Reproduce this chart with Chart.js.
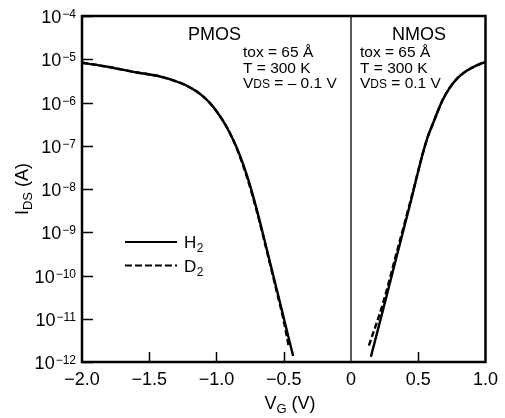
<!DOCTYPE html>
<html>
<head>
<meta charset="utf-8">
<script src="https://cdn.jsdelivr.net/npm/chart.js@4.4.1/dist/chart.umd.min.js"></script>
<style>
  html, body { margin: 0; padding: 0; background: #fff; }
  #wrap { width: 505px; height: 418px; }
</style>
</head>
<body>
<div id="wrap"><canvas id="chart" width="505" height="418"></canvas></div>
<script>
const FONT = "'Liberation Sans', Arial, Helvetica, sans-serif";

// axes
const xTickValues = [-2.0, -1.5, -1.0, -0.5, 0, 0.5, 1.0];
const xTickLabels = ["\u22122.0", "\u22121.5", "\u22121.0", "\u22120.5", "0", "0.5", "1.0"];
const xInnerTicks = [-1.5, -1.0, -0.5, 0.5];
const yTickValues = [1e-12, 1e-11, 1e-10, 1e-9, 1e-8, 1e-7, 1e-6, 1e-5, 1e-4];
const yTickExponents = ["\u221212", "\u221211", "\u221210", "\u22129", "\u22128", "\u22127", "\u22126", "\u22125", "\u22124"];

// PMOS branch (V_G < 0)
const pmosVgH2 = [-2.0, -1.8, -1.6, -1.42, -1.35, -1.3, -1.25, -1.2, -1.15, -1.1, -1.05, -1.0, -0.95, -0.9, -0.85, -0.8, -0.75, -0.7, -0.65, -0.6, -0.55, -0.5, -0.45, -0.43];
const pmosIdsH2 = [8.3e-6, 6.6e-6, 5.0e-6, 4.0e-6, 3.47e-6, 3.09e-6, 2.69e-6, 2.26e-6, 1.82e-6, 1.38e-6, 9.8e-7, 6.3e-7, 3.7e-7, 1.95e-7, 9.1e-8, 3.6e-8, 1.2e-8, 3.3e-9, 8.1e-10, 1.9e-10, 4.5e-11, 1.05e-11, 2.45e-12, 1.38e-12];
const pmosVgD2 = [-2.0, -1.8, -1.6, -1.42, -1.35, -1.3, -1.25, -1.2, -1.15, -1.1, -1.05, -1.0, -0.95, -0.9, -0.852, -0.804, -0.754, -0.703, -0.653, -0.603, -0.554, -0.505, -0.462];
const pmosIdsD2 = [8.3e-6, 6.6e-6, 5.0e-6, 4.0e-6, 3.47e-6, 3.09e-6, 2.69e-6, 2.26e-6, 1.82e-6, 1.38e-6, 9.8e-7, 6.3e-7, 3.7e-7, 1.95e-7, 9.1e-8, 3.6e-8, 1.2e-8, 3.3e-9, 8.1e-10, 1.9e-10, 4.5e-11, 1.05e-11, 2.2e-12];

// NMOS branch (V_G > 0)
const nmosVgH2 = [0.148, 0.25, 0.35, 0.45, 0.53, 0.57, 0.61, 0.65, 0.68, 0.73, 0.79, 0.86, 0.93, 1.0];
const nmosIdsH2 = [1.32e-12, 2.24e-11, 3.7e-10, 6.0e-9, 6.0e-8, 1.58e-7, 3.3e-7, 6.8e-7, 1.12e-6, 2.1e-6, 3.6e-6, 5.4e-6, 7.1e-6, 8.7e-6];
const nmosVgD2 = [0.133, 0.237, 0.343, 0.447, 0.53, 0.57, 0.61, 0.65, 0.68, 0.73, 0.79, 0.86, 0.93, 1.0];
const nmosIdsD2 = [2.4e-12, 2.24e-11, 3.7e-10, 6.0e-9, 6.0e-8, 1.58e-7, 3.3e-7, 6.8e-7, 1.12e-6, 2.1e-6, 3.6e-6, 5.4e-6, 7.1e-6, 8.7e-6];

// divider at V_G = 0
const dividerX = [0, 0];
const dividerY = [1e-12, 1e-4];

function pts(xs, ys) {
  return xs.map((x, i) => ({ x: x, y: ys[i] }));
}

function curve(xs, ys, dash) {
  return {
    data: pts(xs, ys),
    borderColor: "#000",
    borderWidth: 2.4,
    borderDash: dash,
    pointRadius: 0,
    fill: false,
    cubicInterpolationMode: "monotone"
  };
}

// draws the frame, inward ticks, y labels with exponents, axis titles, notes and legend
const decorations = {
  id: "decorations",
  afterDraw(chart) {
    const ctx = chart.ctx;
    const a = chart.chartArea;
    const xs = chart.scales.x;
    const ys = chart.scales.y;
    ctx.save();
    ctx.strokeStyle = "#000";
    ctx.fillStyle = "#000";

    ctx.lineWidth = 2.5;
    ctx.strokeRect(a.left, a.top, a.right - a.left, a.bottom - a.top);

    ctx.lineWidth = 1.5;
    yTickValues.forEach(v => {
      const y = Math.round(ys.getPixelForValue(v)) + 0.5;
      ctx.beginPath();
      ctx.moveTo(a.left, y);
      ctx.lineTo(a.left + 11, y);
      ctx.stroke();
    });
    xInnerTicks.forEach(v => {
      const x = Math.round(xs.getPixelForValue(v)) + 0.5;
      ctx.beginPath();
      ctx.moveTo(x, a.bottom);
      ctx.lineTo(x, a.bottom - 10);
      ctx.stroke();
    });

    // y tick labels: 10 with raised exponent
    ctx.textAlign = "right";
    ctx.textBaseline = "alphabetic";
    yTickValues.forEach((v, i) => {
      const y = ys.getPixelForValue(v);
      ctx.font = "12px " + FONT;
      const ew = ctx.measureText(yTickExponents[i]).width;
      ctx.fillText(yTickExponents[i], 76, y + 2);
      ctx.font = "18px " + FONT;
      ctx.fillText("10", 76 - ew - 1, y + 7);
    });

    // x title V_G (V)
    ctx.textAlign = "left";
    ctx.font = "18px " + FONT;
    const wV = ctx.measureText("V").width;
    const wRest = ctx.measureText(" (V)").width;
    ctx.font = "13px " + FONT;
    const wG = ctx.measureText("G").width;
    let x0 = 290 - (wV + wG + wRest) / 2;
    ctx.font = "18px " + FONT;
    ctx.fillText("V", x0, 409);
    ctx.font = "13px " + FONT;
    ctx.fillText("G", x0 + wV, 413);
    ctx.font = "18px " + FONT;
    ctx.fillText(" (V)", x0 + wV + wG, 409);

    // y title I_DS (A)
    ctx.save();
    ctx.translate(28, 189);
    ctx.rotate(-Math.PI / 2);
    ctx.font = "18px " + FONT;
    const wI = ctx.measureText("I").width;
    const wA = ctx.measureText(" (A)").width;
    ctx.font = "13px " + FONT;
    const wDS = ctx.measureText("DS").width;
    let t0 = -(wI + wDS + wA) / 2;
    ctx.font = "18px " + FONT;
    ctx.fillText("I", t0, 0);
    ctx.font = "13px " + FONT;
    ctx.fillText("DS", t0 + wI, 4);
    ctx.font = "18px " + FONT;
    ctx.fillText(" (A)", t0 + wI + wDS, 0);
    ctx.restore();

    // panel notes
    ctx.font = "18px " + FONT;
    ctx.fillText("PMOS", 188, 40);
    ctx.fillText("NMOS", 392, 40);
    function notes(left, vds) {
      ctx.font = "15.5px " + FONT;
      ctx.fillText("tox = 65 \u00C5", left, 57);
      ctx.fillText("T = 300 K", left, 72.5);
      const wv = ctx.measureText("V").width;
      ctx.fillText("V", left, 88);
      ctx.font = "12px " + FONT;
      const wds = ctx.measureText("DS").width;
      ctx.fillText("DS", left + wv, 88);
      ctx.font = "15.5px " + FONT;
      ctx.fillText(vds, left + wv + wds, 88);
    }
    notes(243, " = \u2013 0.1 V");
    notes(360, " = 0.1 V");

    // legend
    ctx.lineWidth = 2.2;
    ctx.beginPath();
    ctx.moveTo(125, 242);
    ctx.lineTo(177, 242);
    ctx.stroke();
    ctx.setLineDash([7, 3]);
    ctx.beginPath();
    ctx.moveTo(125, 265.5);
    ctx.lineTo(177, 265.5);
    ctx.stroke();
    ctx.setLineDash([]);
    ctx.font = "17px " + FONT;
    ctx.fillText("H", 184, 248);
    ctx.fillText("D", 184, 272);
    const wH = ctx.measureText("H").width;
    const wD = ctx.measureText("D").width;
    ctx.font = "12px " + FONT;
    ctx.fillText("2", 184 + wH + 0.5, 252);
    ctx.fillText("2", 184 + wD + 0.5, 276);

    ctx.restore();
  }
};

new Chart(document.getElementById("chart"), {
  type: "line",
  data: {
    datasets: [
      curve(pmosVgH2, pmosIdsH2, []),
      curve(pmosVgD2, pmosIdsD2, [6, 3]),
      curve(nmosVgH2, nmosIdsH2, []),
      curve(nmosVgD2, nmosIdsD2, [6, 3]),
      {
        data: pts(dividerX, dividerY),
        borderColor: "#000",
        borderWidth: 1.3,
        pointRadius: 0,
        fill: false
      }
    ]
  },
  options: {
    responsive: false,
    animation: false,
    layout: { padding: { top: 16, right: 17, left: 0, bottom: 0 } },
    plugins: {
      legend: { display: false },
      tooltip: { enabled: false }
    },
    scales: {
      x: {
        type: "linear",
        min: -2,
        max: 1,
        afterBuildTicks: s => { s.ticks = xTickValues.map(v => ({ value: v })); },
        afterFit: s => { s.height = 56; },
        ticks: {
          callback: (v, i) => xTickLabels[i],
          font: { family: FONT, size: 18 },
          color: "#000",
          padding: 7,
          maxRotation: 0,
          autoSkip: false
        },
        grid: { display: false, drawTicks: false },
        border: { display: false }
      },
      y: {
        type: "logarithmic",
        min: 1e-12,
        max: 1e-4,
        afterBuildTicks: s => { s.ticks = yTickValues.map(v => ({ value: v })); },
        afterFit: s => { s.width = 82; },
        ticks: { display: false },
        grid: { display: false },
        border: { display: false }
      }
    }
  },
  plugins: [decorations]
});
</script>
</body>
</html>
